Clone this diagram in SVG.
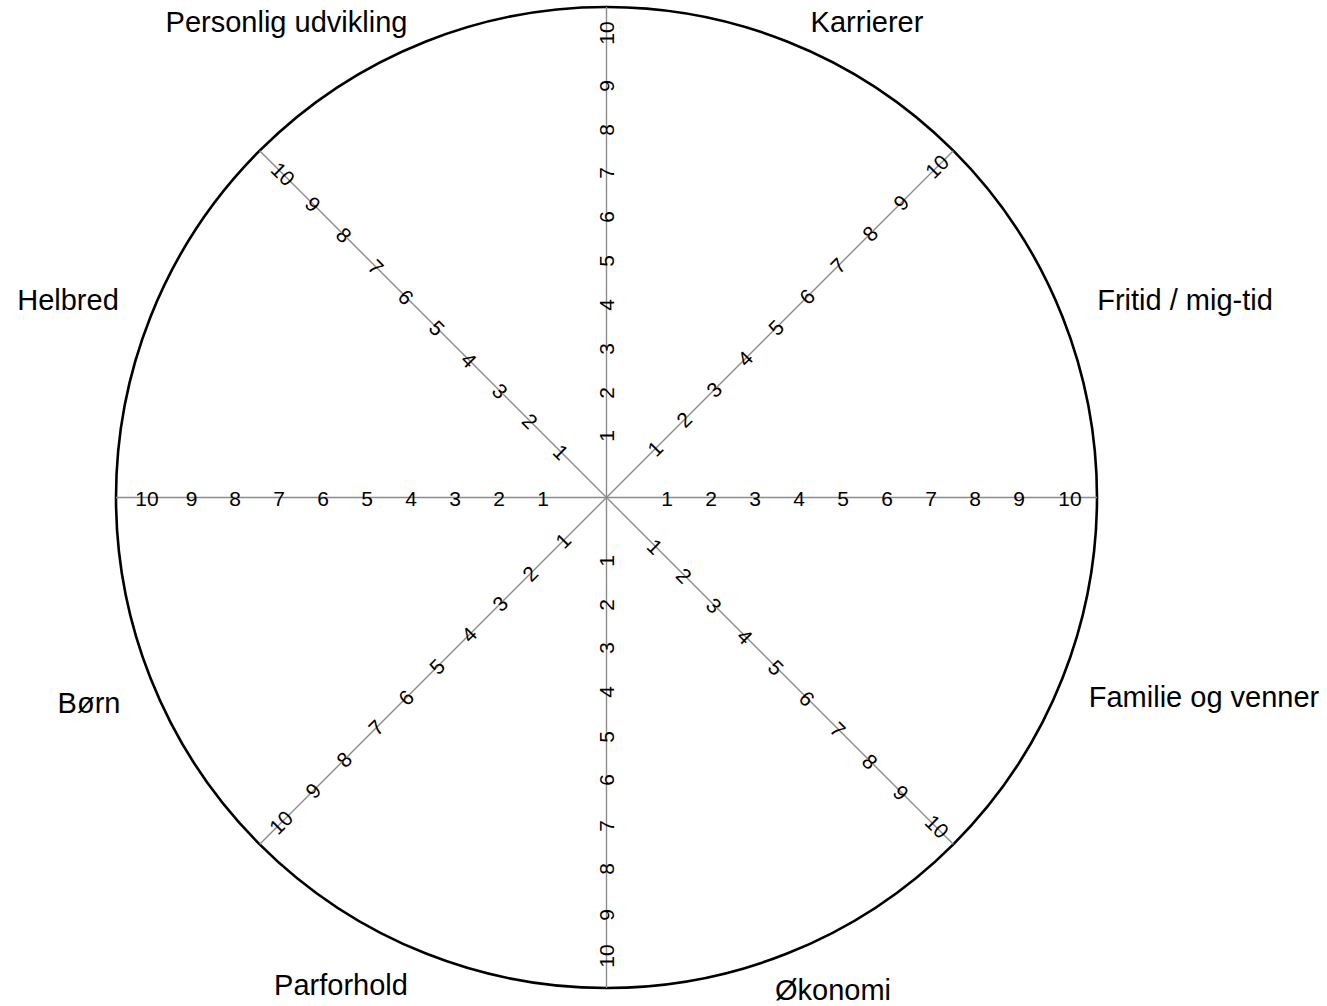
<svg xmlns="http://www.w3.org/2000/svg" width="1327" height="1006" viewBox="0 0 1327 1006">
<style>
.spoke{stroke:#8c8c8c;stroke-width:1.4;fill:none}
.rim{stroke:#000;stroke-width:2.6;fill:none}
.n{font-family:"Liberation Sans",Arial,sans-serif;font-size:21px;fill:#000;text-anchor:middle}
.lab{font-family:"Liberation Sans",Arial,sans-serif;font-size:29px;fill:#000;text-anchor:middle}
</style>
<rect width="1327" height="1006" fill="#fff"/>
<g id="wheel">
<circle class="rim" cx="606.5" cy="497.5" r="490.5"/>
</g>
<g id="connectors">
<line class="spoke" x1="116" y1="497.5" x2="1097" y2="497.5"/>
<line class="spoke" x1="606.5" y1="7" x2="606.5" y2="988"/>
<line class="spoke" x1="259.7" y1="150.7" x2="953.3" y2="844.3"/>
<line class="spoke" x1="953.3" y1="150.7" x2="259.7" y2="844.3"/>
</g>
<g id="scale-right">
<text class="n" x="667" y="505.5">1</text>
<text class="n" x="711" y="505.5">2</text>
<text class="n" x="755" y="505.5">3</text>
<text class="n" x="799" y="505.5">4</text>
<text class="n" x="843" y="505.5">5</text>
<text class="n" x="887" y="505.5">6</text>
<text class="n" x="931" y="505.5">7</text>
<text class="n" x="975" y="505.5">8</text>
<text class="n" x="1019" y="505.5">9</text>
<text class="n" x="1070" y="505.5">10</text>
</g>
<g id="scale-left">
<text class="n" x="543" y="505.5">1</text>
<text class="n" x="499" y="505.5">2</text>
<text class="n" x="455" y="505.5">3</text>
<text class="n" x="411" y="505.5">4</text>
<text class="n" x="367" y="505.5">5</text>
<text class="n" x="323" y="505.5">6</text>
<text class="n" x="279" y="505.5">7</text>
<text class="n" x="235" y="505.5">8</text>
<text class="n" x="191.5" y="505.5">9</text>
<text class="n" x="147" y="505.5">10</text>
</g>
<g id="scale-top">
<text class="n" transform="translate(606.5 436) rotate(-90)" y="7.5">1</text>
<text class="n" transform="translate(606.5 393) rotate(-90)" y="7.5">2</text>
<text class="n" transform="translate(606.5 349) rotate(-90)" y="7.5">3</text>
<text class="n" transform="translate(606.5 305) rotate(-90)" y="7.5">4</text>
<text class="n" transform="translate(606.5 261) rotate(-90)" y="7.5">5</text>
<text class="n" transform="translate(606.5 217) rotate(-90)" y="7.5">6</text>
<text class="n" transform="translate(606.5 173) rotate(-90)" y="7.5">7</text>
<text class="n" transform="translate(606.5 130) rotate(-90)" y="7.5">8</text>
<text class="n" transform="translate(606.5 86) rotate(-90)" y="7.5">9</text>
<text class="n" transform="translate(606.5 33) rotate(-90)" y="7.5">10</text>
</g>
<g id="scale-bottom">
<text class="n" transform="translate(606.5 561) rotate(-90)" y="7.5">1</text>
<text class="n" transform="translate(606.5 605) rotate(-90)" y="7.5">2</text>
<text class="n" transform="translate(606.5 648) rotate(-90)" y="7.5">3</text>
<text class="n" transform="translate(606.5 692) rotate(-90)" y="7.5">4</text>
<text class="n" transform="translate(606.5 737) rotate(-90)" y="7.5">5</text>
<text class="n" transform="translate(606.5 780) rotate(-90)" y="7.5">6</text>
<text class="n" transform="translate(606.5 826) rotate(-90)" y="7.5">7</text>
<text class="n" transform="translate(606.5 869) rotate(-90)" y="7.5">8</text>
<text class="n" transform="translate(606.5 915) rotate(-90)" y="7.5">9</text>
<text class="n" transform="translate(606.5 956) rotate(-90)" y="7.5">10</text>
</g>
<g id="scale-ne">
<text class="n" transform="translate(655 448.5) rotate(-45)" y="7.5">1</text>
<text class="n" transform="translate(684 419.5) rotate(-45)" y="7.5">2</text>
<text class="n" transform="translate(714 389.5) rotate(-45)" y="7.5">3</text>
<text class="n" transform="translate(745 358.5) rotate(-45)" y="7.5">4</text>
<text class="n" transform="translate(776 327.5) rotate(-45)" y="7.5">5</text>
<text class="n" transform="translate(807 296.5) rotate(-45)" y="7.5">6</text>
<text class="n" transform="translate(838 265.5) rotate(-45)" y="7.5">7</text>
<text class="n" transform="translate(870 233.5) rotate(-45)" y="7.5">8</text>
<text class="n" transform="translate(901 202.5) rotate(-45)" y="7.5">9</text>
<text class="n" transform="translate(937 166.5) rotate(-45)" y="7.5">10</text>
</g>
<g id="scale-se">
<text class="n" transform="translate(655 546.5) rotate(45)" y="7.5">1</text>
<text class="n" transform="translate(684 575.5) rotate(45)" y="7.5">2</text>
<text class="n" transform="translate(714 605.5) rotate(45)" y="7.5">3</text>
<text class="n" transform="translate(745 636.5) rotate(45)" y="7.5">4</text>
<text class="n" transform="translate(776 667.5) rotate(45)" y="7.5">5</text>
<text class="n" transform="translate(807 698.5) rotate(45)" y="7.5">6</text>
<text class="n" transform="translate(838 729.5) rotate(45)" y="7.5">7</text>
<text class="n" transform="translate(870 761.5) rotate(45)" y="7.5">8</text>
<text class="n" transform="translate(901 792.5) rotate(45)" y="7.5">9</text>
<text class="n" transform="translate(937 826.5) rotate(45)" y="7.5">10</text>
</g>
<g id="scale-nw">
<text class="n" transform="translate(561 452) rotate(45)" y="7.5">1</text>
<text class="n" transform="translate(530 421) rotate(45)" y="7.5">2</text>
<text class="n" transform="translate(500 391) rotate(45)" y="7.5">3</text>
<text class="n" transform="translate(469 360) rotate(45)" y="7.5">4</text>
<text class="n" transform="translate(437 328) rotate(45)" y="7.5">5</text>
<text class="n" transform="translate(406 297) rotate(45)" y="7.5">6</text>
<text class="n" transform="translate(376 267) rotate(45)" y="7.5">7</text>
<text class="n" transform="translate(344 235) rotate(45)" y="7.5">8</text>
<text class="n" transform="translate(313 204) rotate(45)" y="7.5">9</text>
<text class="n" transform="translate(283 174) rotate(45)" y="7.5">10</text>
</g>
<g id="scale-sw">
<text class="n" transform="translate(563 540.5) rotate(-45)" y="7.5">1</text>
<text class="n" transform="translate(530 573.5) rotate(-45)" y="7.5">2</text>
<text class="n" transform="translate(500 603.5) rotate(-45)" y="7.5">3</text>
<text class="n" transform="translate(469 634.5) rotate(-45)" y="7.5">4</text>
<text class="n" transform="translate(437 666.5) rotate(-45)" y="7.5">5</text>
<text class="n" transform="translate(406 697.5) rotate(-45)" y="7.5">6</text>
<text class="n" transform="translate(376 727.5) rotate(-45)" y="7.5">7</text>
<text class="n" transform="translate(344 759.5) rotate(-45)" y="7.5">8</text>
<text class="n" transform="translate(313 790.5) rotate(-45)" y="7.5">9</text>
<text class="n" transform="translate(281 822.5) rotate(-45)" y="7.5">10</text>
</g>
<g id="label-personlig"><text class="lab" x="286.5" y="32">Personlig udvikling</text></g>
<g id="label-karrierer"><text class="lab" x="867" y="32">Karrierer</text></g>
<g id="label-helbred"><text class="lab" x="68" y="310">Helbred</text></g>
<g id="label-fritid"><text class="lab" x="1185" y="310">Fritid / mig-tid</text></g>
<g id="label-born"><text class="lab" x="89" y="713">Børn</text></g>
<g id="label-familie"><text class="lab" x="1204" y="707">Familie og venner</text></g>
<g id="label-parforhold"><text class="lab" x="341" y="995">Parforhold</text></g>
<g id="label-okonomi"><text class="lab" x="833" y="1000">Økonomi</text></g>
</svg>
